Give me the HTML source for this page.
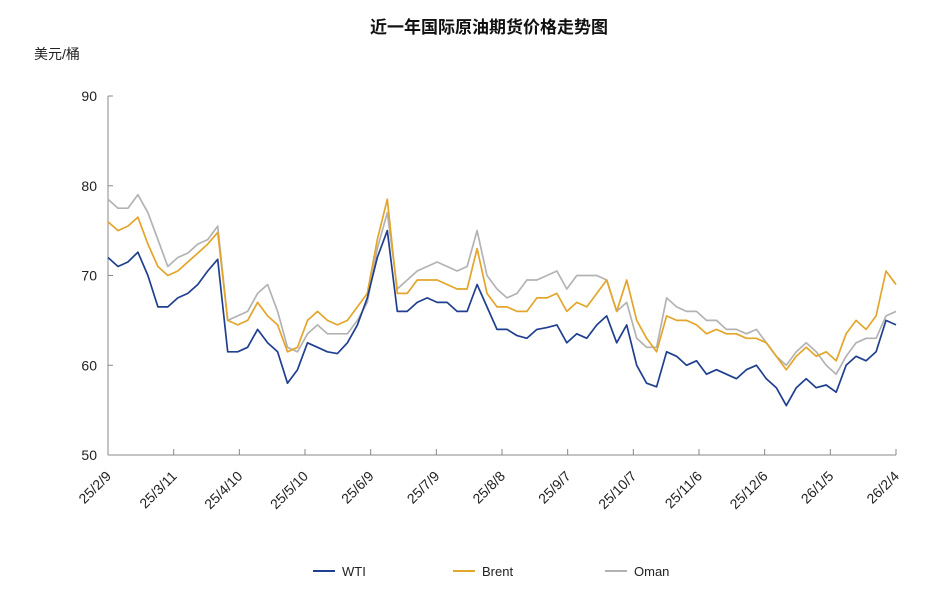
<!DOCTYPE html>
<html><head><meta charset="utf-8"><style>
body{margin:0;background:#fff;}
svg text{font-family:"Liberation Sans","Noto Sans CJK SC",sans-serif;}
</style></head><body>
<svg id="chart" width="938" height="602">
<text x="489" y="33" text-anchor="middle" font-size="17" font-weight="bold" fill="#111">近一年国际原油期货价格走势图</text>
<text x="34" y="59" font-size="14" fill="#222">美元/桶</text>
<g id="axes"></g>
<g id="series"></g>
<g id="legend"></g>
</svg>
<script>
const xLabels=["25/2/9","25/3/11","25/4/10","25/5/10","25/6/9","25/7/9","25/8/8","25/9/7","25/10/7","25/11/6","25/12/6","26/1/5","26/2/4"];
const yTicks=[50,60,70,80,90];
const seriesNames=["WTI","Brent","Oman"];
const wti=[72,71,71.5,72.6,70,66.5,66.5,67.5,68,69,70.5,71.8,61.5,61.5,62,64,62.5,61.5,58,59.5,62.5,62,61.5,61.3,62.5,64.5,67.5,72,75,66,66,67,67.5,67,67,66,66,69,66.5,64,64,63.3,63,64,64.2,64.5,62.5,63.5,63,64.5,65.5,62.5,64.5,60,58,57.6,61.5,61,60,60.5,59,59.5,59,58.5,59.5,60,58.5,57.5,55.5,57.5,58.5,57.5,57.8,57,60,61,60.5,61.5,65,64.5];
const brent=[76,75,75.5,76.5,73.5,71,70,70.5,71.5,72.5,73.5,74.8,65,64.5,65,67,65.5,64.5,61.5,62,65,66,65,64.5,65,66.5,68,74,78.5,68,68,69.5,69.5,69.5,69,68.5,68.5,73,68,66.5,66.5,66,66,67.5,67.5,68,66,67,66.5,68,69.5,66,69.5,65,63,61.5,65.5,65,65,64.5,63.5,64,63.5,63.5,63,63,62.5,61,59.5,61,62,61,61.5,60.5,63.5,65,64,65.5,70.5,69];
const oman=[78.5,77.5,77.5,79,77,74,71,72,72.5,73.5,74,75.5,65,65.5,66,68,69,66,62,61.5,63.5,64.5,63.5,63.5,63.5,65,67,73,77,68.5,69.5,70.5,71,71.5,71,70.5,71,75,70,68.5,67.5,68,69.5,69.5,70,70.5,68.5,70,70,70,69.5,66,67,63,62,62,67.5,66.5,66,66,65,65,64,64,63.5,64,62.5,61,60,61.5,62.5,61.5,60,59,61,62.5,63,63,65.5,66];
const colors=["#1f3f8f","#e3a52a","#b3b3b3"];
const X0=108,X1=896,Y0=455,Y1=96;
const NS="http://www.w3.org/2000/svg";
function xi(i,n){return X0+(X1-X0)*i/(n-1);}
function yv(v){return Y0-(v-50)/40*(Y0-Y1);}
function mk(t,a,p){const e=document.createElementNS(NS,t);for(const k in a)e.setAttribute(k,a[k]);p.appendChild(e);return e;}
const axes=document.getElementById('axes');
const ya=mk('line',{x1:X0,y1:Y1,x2:X0,y2:Y0,stroke:'#888','stroke-width':1},axes);


const xa=mk('line',{x1:X0,y1:Y0,x2:X1,y2:Y0,stroke:'#888','stroke-width':1},axes);


yTicks.forEach(v=>{
  const y=yv(v);
  mk('line',{x1:X0,y1:y,x2:X0+5,y2:y,stroke:'#888'},axes);
  const t=mk('text',{x:97,y:y+5,'text-anchor':'end','font-size':14,fill:'#222'},axes);
  t.textContent=v;
  
  
});
xLabels.forEach((l,i)=>{
  const x=xi(i,xLabels.length);
  mk('line',{x1:x,y1:Y0,x2:x,y2:Y0-6,stroke:'#888'},axes);
  const ax=x+4, ay=Y0+22;
  const t=mk('text',{x:ax,y:ay,'text-anchor':'end','font-size':14,fill:'#222',transform:`rotate(-45 ${ax} ${ay})`},axes);
  t.textContent=l;
  
  
});
const sg=document.getElementById('series');
[wti,brent,oman].slice().reverse().forEach((arr,ri)=>{
  const k=2-ri;
  const pts=arr.map((v,i)=>xi(i,arr.length).toFixed(1)+','+yv(v).toFixed(1)).join(' ');
  const p=mk('polyline',{points:pts,fill:'none',stroke:colors[k],'stroke-width':1.7,'stroke-linejoin':'round'},sg);
  
  
});
const lg=document.getElementById('legend');
const lx=[313,453,605];
seriesNames.forEach((n,k)=>{
  const g=mk('g',{},lg);
  
  
  mk('line',{x1:lx[k],y1:571,x2:lx[k]+22,y2:571,stroke:colors[k],'stroke-width':2},g);
  const t=mk('text',{x:lx[k]+29,y:576,'font-size':13,fill:'#222','font-family':'Liberation Mono, monospace'},g);
  t.textContent=n;
});
</script>
</body></html>
